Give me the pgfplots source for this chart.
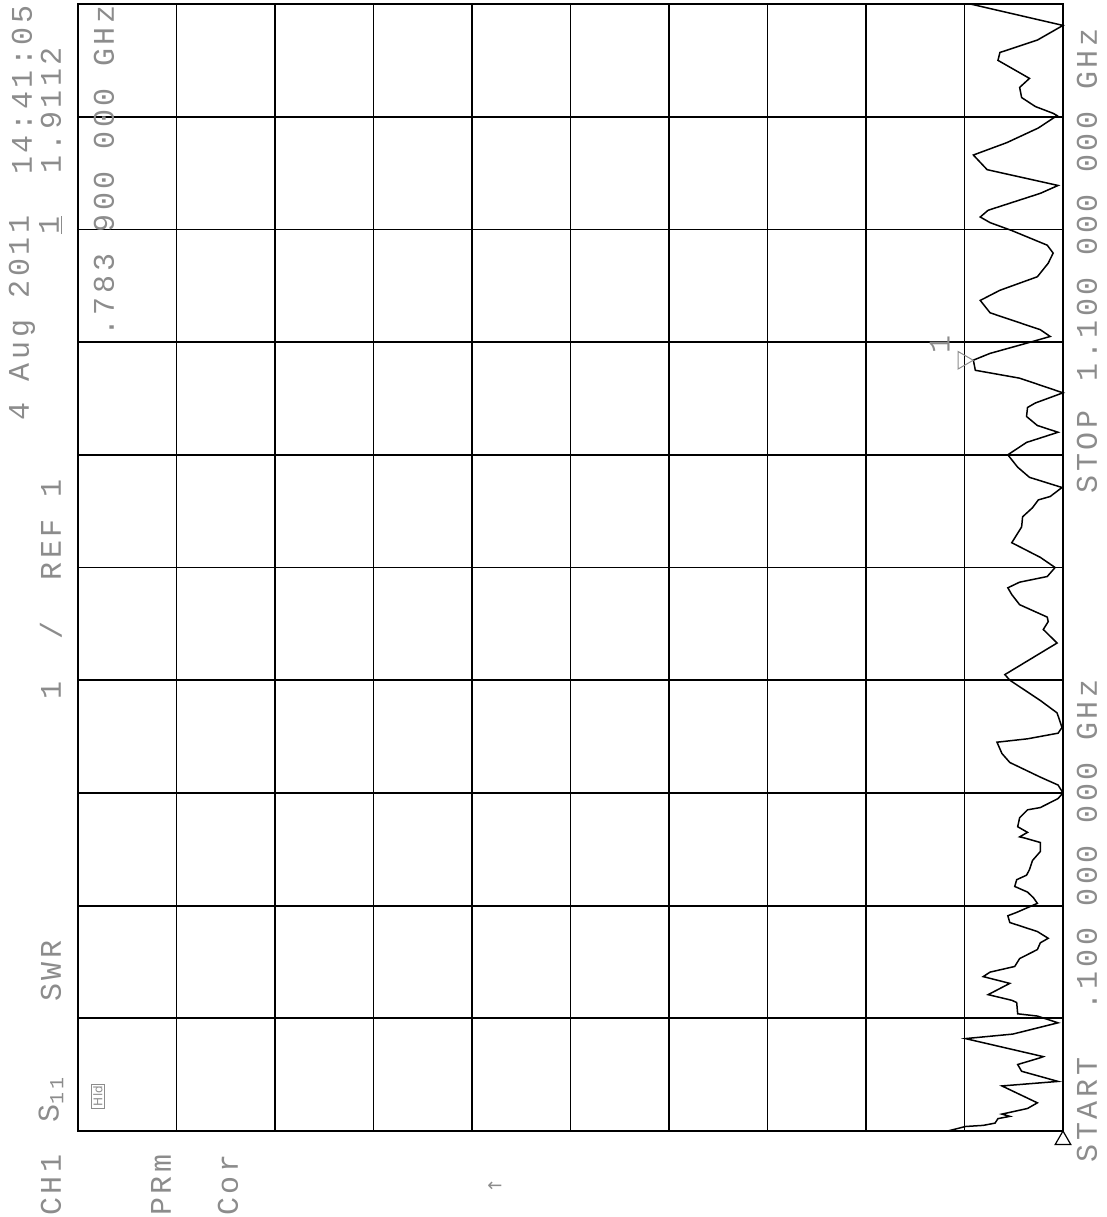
\documentclass[border=0pt]{standalone}
\usepackage{fontspec}
\usepackage{pgfplots}
\pgfplotsset{compat=1.18}
\newfontfamily\plt[LetterSpace=12]{Liberation Mono}
\newfontfamily\sym{DejaVu Sans}
\definecolor{pen}{gray}{0.55}
\begin{document}
\begin{tikzpicture}
\path[use as bounding box] (0pt,0pt) rectangle (553.5pt,-608.5pt);
\begin{axis}[
  at={(39pt,-565.5pt)}, anchor=south west,
  scale only axis, width=492.5pt, height=563.5pt,
  x dir=reverse, xmin=1, xmax=11, ymin=0.1, ymax=1.1,
  xtick={1,2,3,4,5,6,7,8,9,10,11},
  ytick={0.1,0.2,0.3,0.4,0.5,0.6,0.7,0.8,0.9,1.0,1.1},
  xticklabels={}, yticklabels={}, major tick length=0pt,
  grid=major, grid style={black, line width=0.9pt},
  axis line style={black, line width=1pt},
  clip=false,
]
\addplot[black, line width=0.75pt] coordinates {
(2.17,0.100) (1.99,0.104) (1.81,0.105) (1.69,0.107) (1.66,0.111) (1.54,0.113)
(1.62,0.115) (1.36,0.120) (1.26,0.125) (1.62,0.140) (1.05,0.144) (1.42,0.153)
(1.46,0.159) (1.23,0.165) (1.20,0.166) (1.99,0.182) (1.51,0.186) (1.05,0.196)
(1.26,0.202) (1.46,0.204) (1.47,0.214) (1.52,0.216) (1.76,0.221) (1.54,0.231)
(1.81,0.237) (1.74,0.241) (1.49,0.246) (1.44,0.253) (1.26,0.261) (1.23,0.267)
(1.15,0.271) (1.26,0.277) (1.54,0.285) (1.56,0.291) (1.47,0.294) (1.26,0.302)
(1.30,0.307) (1.36,0.312) (1.49,0.317) (1.47,0.323) (1.37,0.327) (1.34,0.332)
(1.31,0.340) (1.23,0.348) (1.23,0.356) (1.39,0.360) (1.44,0.361) (1.36,0.365)
(1.46,0.370) (1.44,0.378) (1.36,0.385) (1.23,0.387) (1.05,0.395) (1.00,0.400)
(1.05,0.407) (1.23,0.414) (1.54,0.427) (1.62,0.435) (1.67,0.445) (1.36,0.448)
(1.05,0.453) (1.01,0.458) (1.06,0.471) (1.23,0.482) (1.54,0.500) (1.59,0.505)
(1.06,0.533) (1.20,0.545) (1.15,0.552) (1.16,0.556) (1.44,0.567) (1.52,0.576)
(1.56,0.582) (1.44,0.587) (1.16,0.592) (1.08,0.600) (1.23,0.609) (1.52,0.622)
(1.42,0.636) (1.41,0.645) (1.31,0.653) (1.25,0.660) (1.13,0.663) (1.01,0.671)
(1.34,0.680) (1.46,0.689) (1.56,0.700) (1.37,0.711) (1.05,0.720) (1.26,0.726)
(1.37,0.734) (1.36,0.742) (1.28,0.746) (1.00,0.755) (1.44,0.768) (1.89,0.775)
(1.91,0.784) (1.74,0.790) (1.37,0.799) (1.13,0.805) (1.23,0.811) (1.74,0.826)
(1.84,0.837) (1.64,0.846) (1.26,0.858) (1.15,0.870) (1.10,0.879) (1.16,0.886)
(1.52,0.899) (1.74,0.906) (1.84,0.911) (1.76,0.917) (1.23,0.932) (1.05,0.939)
(1.77,0.953) (1.91,0.966) (1.57,0.977) (1.25,0.990) (1.06,1.001) (1.10,1.003)
(1.28,1.009) (1.42,1.017) (1.44,1.026) (1.34,1.034) (1.46,1.040) (1.66,1.050)
(1.64,1.057) (1.26,1.068) (1.00,1.081) (1.94,1.100)
};
\addplot[only marks, mark=triangle, mark size=5pt, pen, line width=0.5pt,
  mark options={xshift=-5pt, rotate=-90}] coordinates {(1.9112,0.7839)};
\addplot[only marks, mark=triangle, mark size=4.5pt, black, line width=0.6pt,
  mark options={yshift=-4.5pt}] coordinates {(1,0.1)};
\node[rotate=90, text=pen, font=\plt\fontsize{15}{15}\selectfont, inner sep=0pt]
  at (axis cs:2.25,0.798) {1};
\end{axis}
\begin{scope}[x=0.5pt,y=-0.5pt,
  every node/.style={rotate=90, text=pen, font=\plt\fontsize{15}{15}\selectfont, inner sep=0pt}]
% line A
\node at (22,318) {4 Aug 2011};
\node at (22,90) {14:41:05};
% line B
\node at (51,1185) {CH1};
\node at (51,1100) {S\raisebox{-0.3ex}{\fontsize{10}{10}\selectfont 11}};
\node at (51,971) {SWR};
\node at (51,690) {1};
\node at (51,630) {/};
\node at (51,530) {REF 1};
\node at (51,225) {\underline{1}};
\node at (51,110) {1.9112};
% line C
\node at (104,171) {.783 900 000 GHz};
% status
\node at (161,1185) {PRm};
\node at (228,1185) {Cor};
\node[rotate=-90, font=\sym\fontsize{9}{9}\selectfont] at (495,1187) {←};
\node[draw=pen, line width=0.3pt, inner sep=1pt, font=\sym\fontsize{6}{6}\selectfont] at (98,1096) {Hld};
% right side
\node at (1087,1110) {START};
\node at (1087,845) {.100 000 000 GHz};
\node at (1087,452) {STOP};
\node at (1087,205) {1.100 000 000 GHz};
\end{scope}
\end{tikzpicture}
\end{document}
